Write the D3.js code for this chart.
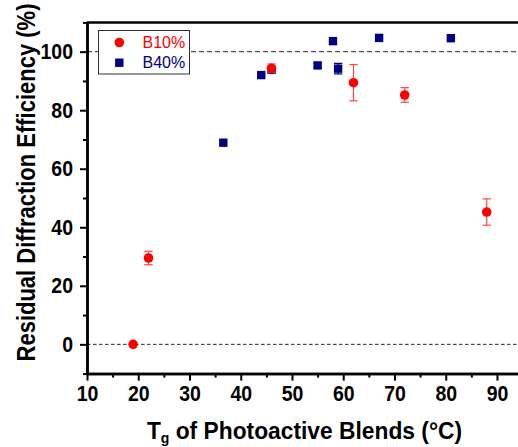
<!DOCTYPE html>
<html><head><meta charset="utf-8">
<script src="https://cdn.jsdelivr.net/npm/d3@7"></script>
<style>body{margin:0;background:#fff}svg{display:block}</style>
</head><body>
<script>
// Data
const b10X = [19, 22, 46, 62, 72, 88];
const b10Y = [0, 29.5, 94.3, 89.4, 85.2, 45.2];
const b10Err = [0, 2.3, 1.5, 6.2, 2.5, 4.5];
const b40X = [36.6, 44, 46, 55, 58, 59, 67, 81];
const b40Y = [68.9, 92.0, 93.8, 95.3, 103.6, 94.2, 104.7, 104.6];
const b40Err = [0, 0, 1.0, 0.8, 0, 1.8, 0, 0];
const xTicks = [10, 20, 30, 40, 50, 60, 70, 80, 90];
const xMinor = [15, 25, 35, 45, 55, 65, 75, 85];
const yTicks = [0, 20, 40, 60, 80, 100];
const yMinor = [-10, 10, 30, 50, 70, 90, 110];
const refLines = [0, 100];
const seriesNames = ["B10%", "B40%"];
const xTitle = ["T", "g", " of Photoactive Blends (°C)"];
const yTitle = "Residual Diffraction Efficiency (%)";

const W = 518, H = 447;
const svg = d3.select("body").append("svg").attr("width", W).attr("height", H);
const x = d3.scaleLinear().domain([10, 95]).range([87, 522.6]);
const y = d3.scaleLinear().domain([-10, 110]).range([373.6, 22.4]);
const FONT = "'Liberation Sans', Arial, sans-serif";

// reference dashed lines
svg.selectAll("line.ref").data(refLines).enter().append("line")
  .attr("x1", x(10)).attr("x2", W)
  .attr("y1", d => y(d)).attr("y2", d => y(d))
  .attr("stroke", (d, i) => i ? "#555" : "#222")
  .attr("stroke-width", (d, i) => i ? 1.3 : 1)
  .attr("stroke-dasharray", (d, i) => i ? "5,3" : "3.5,2.5");

// top frame
svg.append("line").attr("x1", x(10)).attr("x2", W + 10)
  .attr("y1", y(110)).attr("y2", y(110)).attr("stroke", "#000").attr("stroke-width", 2.5);

// axes
const gx = svg.append("g").attr("transform", `translate(0,${y(-10)})`);
gx.call(d3.axisBottom(x).tickValues(xMinor).tickSize(4).tickSizeOuter(0).tickFormat(""));
const gx2 = svg.append("g").attr("transform", `translate(0,${y(-10)})`);
gx2.call(d3.axisBottom(x).tickValues(xTicks).tickSize(7).tickSizeOuter(0).tickFormat(d3.format("d")));
const gy = svg.append("g").attr("transform", `translate(${x(10)},0)`);
gy.call(d3.axisLeft(y).tickValues(yMinor).tickSize(4).tickSizeOuter(0).tickFormat(""));
const gy2 = svg.append("g").attr("transform", `translate(${x(10)},0)`);
gy2.call(d3.axisLeft(y).tickValues(yTicks).tickSize(7).tickSizeOuter(0).tickFormat(d3.format("d")));

[gx, gx2, gy, gy2].forEach(g => {
  g.select(".domain").attr("stroke", "#000").attr("stroke-width", 2.5);
  g.selectAll(".tick line").attr("stroke", "#000").attr("stroke-width", 2);
});
gx2.selectAll(".tick text").attr("font-family", FONT).attr("font-weight", "bold")
  .attr("font-size", 19.5).attr("fill", "#000")
  .attr("dy", 0).attr("y", 25.3).attr("transform", "scale(1,1.1)");
gy2.selectAll(".tick text").attr("font-family", FONT).attr("font-weight", "bold")
  .attr("font-size", 19.5).attr("fill", "#000")
  .attr("x", -14).attr("dy", "0.33em").attr("transform", "scale(1,1.1)");

// error bars
function errBars(xs, ys, es, color) {
  const data = xs.map((v, i) => ({x: v, y: ys[i], e: es[i]})).filter(d => d.e > 0);
  const g = svg.append("g").attr("stroke", color).attr("stroke-width", 1.2);
  g.selectAll("line.v").data(data).enter().append("line")
    .attr("x1", d => x(d.x)).attr("x2", d => x(d.x))
    .attr("y1", d => y(d.y - d.e)).attr("y2", d => y(d.y + d.e));
  g.selectAll("line.t").data(data).enter().append("line")
    .attr("x1", d => x(d.x) - 4.2).attr("x2", d => x(d.x) + 4.2)
    .attr("y1", d => y(d.y + d.e)).attr("y2", d => y(d.y + d.e));
  g.selectAll("line.b").data(data).enter().append("line")
    .attr("x1", d => x(d.x) - 4.2).attr("x2", d => x(d.x) + 4.2)
    .attr("y1", d => y(d.y - d.e)).attr("y2", d => y(d.y - d.e));
}
errBars(b40X, b40Y, b40Err, "#000080");
svg.selectAll("rect.b40").data(b40X).enter().append("rect")
  .attr("x", d => x(d) - 4.2).attr("y", (d, i) => y(b40Y[i]) - 4.2)
  .attr("width", 8.4).attr("height", 8.4).attr("fill", "#000080");
errBars(b10X, b10Y, b10Err, "#ff4444");
svg.selectAll("circle.b10").data(b10X).enter().append("circle")
  .attr("cx", d => x(d)).attr("cy", (d, i) => y(b10Y[i])).attr("r", 4.8)
  .attr("fill", "#ff0000");

// legend
const lg = svg.append("g");
lg.append("rect").attr("x", 98.5).attr("y", 30.5).attr("width", 91).attr("height", 43.5)
  .attr("fill", "#fff").attr("stroke", "#333").attr("stroke-width", 1);
lg.append("circle").attr("cx", 119.3).attr("cy", 42.5).attr("r", 4.8).attr("fill", "#ff0000");
lg.append("rect").attr("x", 115.1).attr("y", 58.5).attr("width", 8.4).attr("height", 8.4).attr("fill", "#000080");
lg.append("text").attr("x", 142.5).attr("y", 47.5).text(seriesNames[0])
  .attr("font-family", FONT).attr("font-size", 16).attr("fill", "#ff0000");
lg.append("text").attr("x", 142.5).attr("y", 68.3).text(seriesNames[1])
  .attr("font-family", FONT).attr("font-size", 16).attr("fill", "#000080");

// axis titles
const xt = svg.append("text").attr("transform", "translate(304.5,439) scale(1,1.06)")
  .attr("text-anchor", "middle").attr("font-family", FONT).attr("font-weight", "bold")
  .attr("font-size", 22.8).attr("fill", "#000");
xt.append("tspan").text(xTitle[0]);
xt.append("tspan").text(xTitle[1]).attr("font-size", 14).attr("dy", 3.5);
xt.append("tspan").text(xTitle[2]).attr("dy", -3.5);

svg.append("text").attr("transform", "translate(35,182.5) rotate(-90) scale(1,1.2)")
  .attr("text-anchor", "middle").attr("font-family", FONT).attr("font-weight", "bold")
  .attr("font-size", 22).attr("fill", "#000").text(yTitle);
</script>
</body></html>
